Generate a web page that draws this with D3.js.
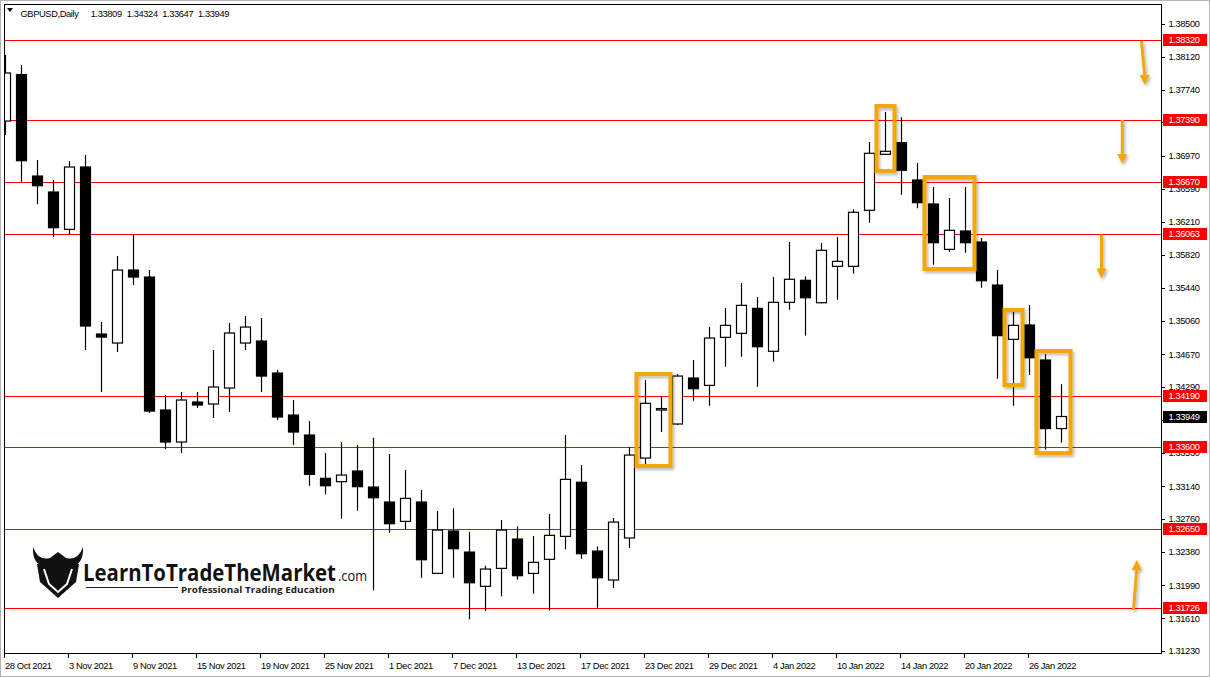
<!DOCTYPE html>
<html><head><meta charset="utf-8">
<script src="https://cdn.jsdelivr.net/npm/d3@7"></script>
<style>
html,body{margin:0;padding:0;background:#fff;}
svg{display:block;}
.ax{font-family:"Liberation Sans",Arial,sans-serif;}
</style></head><body>
<svg id="c" width="1210" height="677"></svg>
<script>
const dates = ["28 Oct 2021","29 Oct 2021","1 Nov 2021","2 Nov 2021","3 Nov 2021","4 Nov 2021","5 Nov 2021","8 Nov 2021","9 Nov 2021","10 Nov 2021","11 Nov 2021","12 Nov 2021","15 Nov 2021","16 Nov 2021","17 Nov 2021","18 Nov 2021","19 Nov 2021","22 Nov 2021","23 Nov 2021","24 Nov 2021","25 Nov 2021","26 Nov 2021","29 Nov 2021","30 Nov 2021","1 Dec 2021","2 Dec 2021","3 Dec 2021","6 Dec 2021","7 Dec 2021","8 Dec 2021","9 Dec 2021","10 Dec 2021","13 Dec 2021","14 Dec 2021","15 Dec 2021","16 Dec 2021","17 Dec 2021","20 Dec 2021","21 Dec 2021","22 Dec 2021","23 Dec 2021","24 Dec 2021","27 Dec 2021","28 Dec 2021","29 Dec 2021","30 Dec 2021","31 Dec 2021","3 Jan 2022","4 Jan 2022","5 Jan 2022","6 Jan 2022","7 Jan 2022","10 Jan 2022","11 Jan 2022","12 Jan 2022","13 Jan 2022","14 Jan 2022","17 Jan 2022","18 Jan 2022","19 Jan 2022","20 Jan 2022","21 Jan 2022","24 Jan 2022","25 Jan 2022","26 Jan 2022","27 Jan 2022","28 Jan 2022"];

const openP  = [1.37375,1.37912,1.36737,1.36552,1.36119,1.36842,1.34905,1.34801,1.35647,1.35566,1.34024,1.33653,1.34117,1.34094,1.34279,1.34801,1.34824,1.34453,1.33966,1.33734,1.33232,1.33193,1.33317,1.33131,1.32957,1.32733,1.32957,1.32130,1.32621,1.32377,1.31980,1.32188,1.32528,1.32130,1.32293,1.32559,1.33186,1.32389,1.32053,1.32540,1.33467,1.34024,1.33862,1.34395,1.34310,1.34867,1.34913,1.35203,1.34705,1.35273,1.35528,1.35268,1.35690,1.35690,1.36340,1.36989,1.37124,1.36691,1.36413,1.35887,1.36100,1.35972,1.35473,1.34844,1.35010,1.34604,1.33809];
const highP  = [1.38141,1.38025,1.36923,1.36691,1.36911,1.36981,1.35044,1.35810,1.36065,1.35647,1.34198,1.34233,1.34233,1.34720,1.35033,1.35114,1.35091,1.34488,1.34140,1.33896,1.33525,1.33653,1.33618,1.33703,1.33514,1.33328,1.33096,1.32853,1.32884,1.32609,1.32219,1.32748,1.32675,1.32563,1.32818,1.33734,1.33386,1.32443,1.32772,1.33595,1.34372,1.34178,1.34441,1.34604,1.34986,1.35207,1.35497,1.35334,1.35566,1.35972,1.35574,1.35961,1.36030,1.36351,1.37132,1.37480,1.37418,1.36888,1.36610,1.36482,1.36610,1.36018,1.35647,1.35184,1.35242,1.34673,1.34324];
const lowP   = [1.37213,1.36671,1.36409,1.36034,1.36065,1.34720,1.34233,1.34697,1.35473,1.33989,1.33572,1.33525,1.34047,1.33931,1.34001,1.34720,1.34233,1.33908,1.33618,1.33146,1.33046,1.32764,1.32856,1.31933,1.32601,1.32644,1.32079,1.32122,1.32079,1.31597,1.31693,1.31864,1.32056,1.31894,1.31701,1.32409,1.32300,1.31731,1.31960,1.32424,1.33386,1.33769,1.33850,1.34132,1.34074,1.34526,1.34642,1.34294,1.34584,1.35187,1.34886,1.35261,1.35303,1.35605,1.36196,1.36981,1.36521,1.36363,1.35709,1.35856,1.35848,1.35442,1.34387,1.34074,1.34430,1.33564,1.33647];
const closeP = [1.37932,1.36915,1.36625,1.36138,1.36842,1.34998,1.34870,1.35647,1.35566,1.34012,1.33653,1.34140,1.34082,1.34291,1.34917,1.34986,1.34418,1.33943,1.33769,1.33278,1.33146,1.33270,1.33135,1.33007,1.32706,1.33000,1.32288,1.32632,1.32416,1.32021,1.32180,1.32632,1.32103,1.32258,1.32571,1.33220,1.32358,1.32079,1.32725,1.33502,1.34102,1.34041,1.34418,1.34271,1.34859,1.35006,1.35238,1.34758,1.35273,1.35540,1.35326,1.35876,1.35748,1.36317,1.37001,1.37024,1.36804,1.36428,1.35964,1.36108,1.35964,1.35523,1.34886,1.35006,1.34630,1.33809,1.33949];

const yTickLabels = ["1.38500","1.38120","1.37740","1.37360","1.36970","1.36590","1.36210","1.35820","1.35440","1.35060","1.34670","1.34290","1.33910","1.33530","1.33140","1.32760","1.32380","1.31990","1.31610","1.31230"];
const xTickLabels = ["28 Oct 2021","3 Nov 2021","9 Nov 2021","15 Nov 2021","19 Nov 2021","25 Nov 2021","1 Dec 2021","7 Dec 2021","13 Dec 2021","17 Dec 2021","23 Dec 2021","29 Dec 2021","4 Jan 2022","10 Jan 2022","14 Jan 2022","20 Jan 2022","26 Jan 2022"];
const levels = [1.38320,1.37390,1.36670,1.36063,1.34190,1.33600,1.32650,1.31726];
const symbol = "GBPUSD,Daily";

// highlighted zones: first bar, last bar, top price, bottom price
const boxFrom = ["23 Dec 2021","13 Jan 2022","18 Jan 2022","25 Jan 2022","27 Jan 2022"];
const boxTo   = ["24 Dec 2021","13 Jan 2022","20 Jan 2022","25 Jan 2022","28 Jan 2022"];
const boxTop  = [1.34441,1.37549,1.36726,1.35184,1.34708];
const boxBot  = [1.33375,1.36795,1.35659,1.34314,1.33525];

// arrows: bar position (future bars), start price, end price
const arrowBarFrom = [71.0,69.8,68.5,70.5];
const arrowBarTo   = [71.2,69.8,68.5,70.7];
const arrowFrom = [1.38303,1.37387,1.36058,1.31705];
const arrowTo   = [1.37793,1.36877,1.35548,1.32285];

const svg = d3.select("#c");
const W = 1210, H = 677;
const PL = 4, PR = 1161, PT = 4, PB = 653;

// axis font: ~9.3px, tightened so a price label is ~31px wide like the original terminal font
const FS = 9.3;
const probe = svg.append("text").attr("class","ax").attr("font-size",FS).text("1.33809");
const pw = probe.node().getComputedTextLength() || 31;
probe.remove();
const LS = Math.max(-0.6, Math.min(0.3, (31 - pw) / 7));
function ax(sel) { return sel.attr("class","ax").attr("font-size",FS).attr("letter-spacing",LS); }

const x = d3.scaleLinear().domain([0, dates.length - 1]).range([5.5, 5.5 + 16 * (dates.length - 1)]);
const y = d3.scaleLinear().domain([1.3123, 1.385]).range([651, 24]);

const defs = svg.append("defs");
defs.append("clipPath").attr("id","clip").append("rect")
  .attr("x", PL + 0.5).attr("y", PT + 0.5).attr("width", PR - PL - 0.5).attr("height", PB - PT - 0.5);
const f = defs.append("filter").attr("id","sh").attr("x","-50%").attr("y","-50%").attr("width","200%").attr("height","200%");
f.append("feDropShadow").attr("dx",1.5).attr("dy",2).attr("stdDeviation",1.5).attr("flood-color","#000").attr("flood-opacity",0.3);

svg.append("rect").attr("x",0).attr("y",0).attr("width",W).attr("height",H).attr("fill","#fff");
svg.append("rect").attr("x",0.5).attr("y",0.5).attr("width",W-1).attr("height",H-1).attr("fill","none").attr("stroke","#b4b4b4");

const plot = svg.append("g").attr("clip-path","url(#clip)");

// level lines
plot.selectAll("line.lvl").data(levels).enter().append("line")
  .attr("x1", PL).attr("x2", PR)
  .attr("y1", d => Math.round(y(d)) + 0.5).attr("y2", d => Math.round(y(d)) + 0.5)
  .attr("stroke", "#ff0000").attr("stroke-width", 1);

// candles
const idx = d3.range(dates.length);
const cg = plot.append("g");
cg.selectAll("line.w").data(idx).enter().append("line")
  .attr("x1", i => x(i)).attr("x2", i => x(i))
  .attr("y1", i => y(highP[i])).attr("y2", i => y(lowP[i]))
  .attr("stroke", "#000").attr("stroke-width", 1.2);
cg.selectAll("rect.b").data(idx).enter().append("rect")
  .attr("x", i => x(i) - 5).attr("width", 10)
  .attr("y", i => y(Math.max(openP[i], closeP[i])))
  .attr("height", i => Math.max(1, y(Math.min(openP[i], closeP[i])) - y(Math.max(openP[i], closeP[i]))))
  .attr("fill", i => closeP[i] >= openP[i] ? "#fff" : "#000")
  .attr("stroke", "#000").attr("stroke-width", 1.2);

// frame
svg.append("rect").attr("x", PL + 0.5).attr("y", PT + 0.5).attr("width", PR - PL).attr("height", PB - PT)
  .attr("fill","none").attr("stroke","#000").attr("stroke-width",1);

// header
svg.append("path").attr("d","M7,8 L13,8 L10,12 Z").attr("fill","#000");
const hdrX = [20.5, 90.7, 126.7, 162.2, 198];
const hdrT = [symbol].concat([openP, highP, lowP, closeP].map(a => a[a.length-1].toFixed(5)));
hdrT.forEach((t, k) => {
  ax(svg.append("text")).attr("x",hdrX[k]).attr("y",16.5).attr("fill","#000").text(t);
});

// y axis ticks (labels fully covered by a level label are not drawn, as in the original)
const covers = levels.concat([closeP[closeP.length-1]]);
const yTicks = yTickLabels.map(Number);
const ya = svg.append("g");
ya.selectAll("line").data(yTicks).enter().append("line")
  .attr("x1", PR).attr("x2", PR + 4)
  .attr("y1", d => Math.round(y(d)) + 0.5).attr("y2", d => Math.round(y(d)) + 0.5)
  .attr("stroke","#000");
ax(ya.selectAll("text").data(yTickLabels.filter(t => !covers.some(c => Math.abs(y(c) - y(+t)) < 5))).enter().append("text"))
  .attr("x", 1168.5).attr("y", d => y(+d)).attr("dy","0.36em").attr("fill","#000").text(d => d);

// x axis ticks
const xa = svg.append("g");
const xIdx = xTickLabels.map(l => dates.indexOf(l));
xa.selectAll("line").data(xIdx).enter().append("line")
  .attr("x1", i => Math.round(x(i) - 1.5) + 0.5).attr("x2", i => Math.round(x(i) - 1.5) + 0.5)
  .attr("y1", PB).attr("y2", PB + 5).attr("stroke","#000");
ax(xa.selectAll("text").data(xIdx).enter().append("text"))
  .attr("x", i => x(i) - 0.5).attr("y", 669).attr("fill","#000").text(i => dates[i]);

// level labels
const lg = svg.append("g");
levels.forEach(v => {
  const yy = Math.round(y(v));
  lg.append("rect").attr("x", 1163).attr("y", yy - 6).attr("width", 44).attr("height", 12).attr("fill","#ff0000");
  ax(lg.append("text")).attr("x",1168.5).attr("y", yy).attr("dy","0.36em").attr("fill","#fff").text(v.toFixed(5));
});
{
  const v = closeP[closeP.length-1];
  const yy = Math.round(y(v));
  lg.append("rect").attr("x", 1163).attr("y", yy - 6).attr("width", 44).attr("height", 12).attr("fill","#000");
  ax(lg.append("text")).attr("x",1168.5).attr("y", yy).attr("dy","0.36em").attr("fill","#fff").text(v.toFixed(5));
}

// orange annotations
const OR = "#f5a60c";
const ag = svg.append("g").attr("filter","url(#sh)");
boxFrom.forEach((d, k) => {
  const x0 = x(dates.indexOf(d)) - 9, x1 = x(dates.indexOf(boxTo[k])) + 9;
  const y0 = y(boxTop[k]), y1 = y(boxBot[k]);
  ag.append("rect").attr("x", x0).attr("y", y0).attr("width", x1 - x0).attr("height", y1 - y0)
    .attr("fill","none").attr("stroke", OR).attr("stroke-width", 4);
});
arrowFrom.forEach((p, k) => {
  const xa0 = x(arrowBarFrom[k]), xa1 = x(arrowBarTo[k]);
  const ya0 = y(p), ya1 = y(arrowTo[k]);
  const dir = Math.sign(ya1 - ya0);
  const hl = 10, hw = 5;
  ag.append("line").attr("x1", xa0).attr("y1", ya0).attr("x2", xa1).attr("y2", ya1 - dir * hl + dir)
    .attr("stroke", OR).attr("stroke-width", 3);
  ag.append("path").attr("d", `M${xa1 - hw},${ya1 - dir * hl} L${xa1 + hw},${ya1 - dir * hl} L${xa1},${ya1} Z`).attr("fill", OR);
});

// logo
const logo = svg.append("g");
logo.append("path").attr("d","M33,547 Q38,561 50,558 L58,552 L66,558 Q78,561 83,547 Q84,564 71,567 L45,567 Q32,564 33,547 Z").attr("fill","#111");
logo.append("path").attr("d","M37,564 L79,564 L76,582 L58,598 L40,582 Z").attr("fill","#111");
logo.append("path").attr("d","M44,569 L49,584 L58,592 L67,584 L72,569").attr("fill","none").attr("stroke","#fff").attr("stroke-width",2);
function fitText(px, py, w, size, weight, fill, str) {
  const g = logo.append("g");
  const t = g.append("text").attr("x",0).attr("y",0).attr("font-family","'Open Sans',sans-serif")
    .attr("font-weight",weight).attr("font-size",size).attr("fill",fill).text(str);
  const nw = t.node().getComputedTextLength() || w;
  g.attr("transform", `translate(${px},${py}) scale(${w / nw},1)`);
}
fitText(83, 580.5, 253, 23.5, 700, "#111", "LearnToTradeTheMarket");
fitText(338, 580.5, 29, 15, 400, "#111", ".com");
logo.append("line").attr("x1",86).attr("x2",178).attr("y1",587.5).attr("y2",587.5).attr("stroke","#222").attr("stroke-width",1.2);
fitText(181, 593, 154, 9.6, 700, "#222", "Professional Trading Education");
</script>
</body></html>
